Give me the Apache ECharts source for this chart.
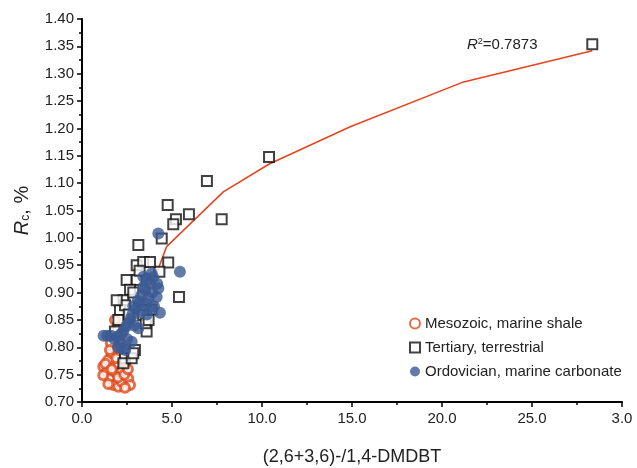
<!DOCTYPE html>
<html>
<head>
<meta charset="utf-8">
<script src="https://cdn.jsdelivr.net/npm/echarts@6/dist/echarts.min.js"></script>
<style>html,body{margin:0;padding:0;background:#fff;}#c{width:637px;height:468px;}</style>
</head>
<body>
<div id="c"></div>
<script>
// ---- data ----
var seriesNames = ['Mesozoic, marine shale', 'Tertiary, terrestrial', 'Ordovician, marine carbonate'];

var mesozoic = [
  [1.18,0.765],[1.46,0.777],[1.65,0.789],[1.83,0.798],[1.37,0.755],[1.56,0.743],
  [1.74,0.731],[2.02,0.728],[2.20,0.737],[2.57,0.743],[2.67,0.731],[1.83,0.755],
  [2.02,0.768],[1.46,0.733],[2.39,0.726],[1.18,0.749],[2.20,0.758],[2.40,0.770],
  [1.90,0.780],[1.83,0.850],[1.95,0.835],[2.10,0.812],[2.50,0.795],[1.60,0.808],
  [1.30,0.770],[1.65,0.760],[2.00,0.745],[2.35,0.750],[1.55,0.795],[2.55,0.760]
];

var tertiary = [
  [28.35,1.354],[10.39,1.148],[6.94,1.104],[4.76,1.060],[5.94,1.043],[5.22,1.034],
  [5.07,1.025],[7.76,1.034],[4.43,0.999],[3.13,0.987],[4.79,0.955],[4.30,0.938],
  [3.04,0.950],[3.40,0.956],[3.78,0.956],[2.48,0.923],[3.04,0.923],[2.67,0.905],
  [5.39,0.892],[3.87,0.869],[2.30,0.886],[2.11,0.868],[2.02,0.850],[3.40,0.868],
  [3.40,0.859],[1.83,0.829],[3.59,0.829],[2.39,0.877],[1.93,0.886],[2.94,0.795],
  [2.39,0.780],[2.30,0.771],[2.76,0.780],[2.85,0.789],[3.54,0.844],[2.60,0.860],
  [3.20,0.940],[2.85,0.900],[3.70,0.850]
];

var ordovician = [
  [4.24,1.008],[5.44,0.938],[3.41,0.929],[3.87,0.935],[4.18,0.916],[4.33,0.863],
  [4.15,0.892],[4.24,0.908],[3.59,0.880],[3.78,0.917],[3.13,0.835],[2.76,0.810],
  [2.20,0.798],[1.20,0.821],[1.60,0.821],[2.00,0.820],[2.30,0.830],[2.60,0.845],
  [2.80,0.860],[3.00,0.870],[3.20,0.880],[3.30,0.895],[3.50,0.905],[2.50,0.815],
  [2.90,0.840],[3.60,0.860],[4.00,0.875],[3.90,0.900],[2.10,0.808],[2.40,0.795],
  [1.80,0.815],[3.70,0.890],[2.00,0.800],[1.40,0.821],[2.45,0.838],[2.70,0.852],
  [3.10,0.885],[3.40,0.910],[3.60,0.925],[3.95,0.928],[2.20,0.825],[2.85,0.875],
  [3.25,0.865],[3.80,0.870]
];

var trendLine = [
  [2.0,0.79],[3.0,0.87],[4.06,0.928],[4.7,0.984],[7.85,1.084],[10.4,1.135],
  [14.9,1.203],[21.2,1.285],[28.35,1.342]
];

var xTickLabels = ['0.0','5.0','10.0','15.0','20.0','25.0','3.0'];
var yTickLabels = ['0.70','0.75','0.80','0.85','0.90','0.95','1.00','1.05','1.10','1.15','1.20','1.25','1.30','1.35','1.40'];
var r2Text = '=0.7873';

// ---- chart ----
var chart = echarts.init(document.getElementById('c'));
var font = 'Liberation Sans, Arial, sans-serif';
var axisCommon = {
  axisLine: {show: true, lineStyle: {color: '#000', width: 2}},
  axisTick: {show: true, length: 5, lineStyle: {color: '#000', width: 1.5}},
  minorTick: {show: true, splitNumber: 2, length: 3, lineStyle: {color: '#000', width: 1.5}},
  splitLine: {show: false},
  minorSplitLine: {show: false}
};

chart.setOption({
  animation: false,
  backgroundColor: '#fff',
  grid: {left: 82, right: 15, top: 19, bottom: 66, containLabel: false, outerBoundsMode: 'none'},
  xAxis: Object.assign({
    type: 'value', min: 0, max: 30, interval: 5,
    name: '(2,6+3,6)-/1,4-DMDBT', nameLocation: 'middle', nameGap: 46,
    nameTextStyle: {fontFamily: font, fontSize: 18, color: '#222'},
    axisLabel: {
      fontFamily: font, fontSize: 15, color: '#222', margin: 9,
      formatter: function (v) { return xTickLabels[Math.round(v / 5)]; }
    }
  }, axisCommon),
  yAxis: Object.assign({
    type: 'value', min: 0.70, max: 1.40, interval: 0.05,
    name: '{i|R}{s|c}{n|, %}', nameLocation: 'middle', nameGap: 50,
    nameTextStyle: {
      fontFamily: font, fontSize: 20, color: '#222',
      rich: {
        i: {fontFamily: font, fontSize: 20, fontStyle: 'italic', color: '#222', verticalAlign: 'bottom', lineHeight: 22},
        s: {fontFamily: font, fontSize: 12, color: '#222', verticalAlign: 'bottom', lineHeight: 14},
        n: {fontFamily: font, fontSize: 20, color: '#222', verticalAlign: 'bottom', lineHeight: 22}
      }
    },
    axisLabel: {
      fontFamily: font, fontSize: 15, color: '#222', margin: 8,
      formatter: function (v) { return yTickLabels[Math.round((v - 0.70) / 0.05)]; }
    }
  }, axisCommon),
  legend: {
    orient: 'vertical', left: 404, top: 311, itemGap: 9,
    itemWidth: 10, itemHeight: 10,
    textStyle: {fontFamily: font, fontSize: 15, color: '#222'},
    data: seriesNames
  },
  graphic: [{
    type: 'text', left: 467, top: 37,
    style: {
      text: '{i|R}{s|2}{n|' + r2Text + '}',
      fontFamily: font, fontSize: 15, fill: '#222',
      rich: {
        i: {fontFamily: font, fontSize: 15, fontStyle: 'italic', fill: '#222'},
        s: {fontFamily: font, fontSize: 9, fill: '#222', verticalAlign: 'top', padding: [0, 0, 6, 0]},
        n: {fontFamily: font, fontSize: 15, fill: '#222'}
      }
    }
  }],
  series: [
    {
      type: 'line', data: trendLine, symbol: 'none', z: 1, silent: true,
      lineStyle: {color: '#e8431c', width: 1.5}
    },
    {
      name: seriesNames[0], type: 'scatter', data: mesozoic, z: 2,
      symbol: 'circle', symbolSize: 9,
      itemStyle: {color: '#fff', borderColor: '#de4a1c', borderWidth: 3}
    },
    {
      name: seriesNames[1], type: 'scatter', data: tertiary, z: 3,
      symbol: 'rect', symbolSize: 10,
      itemStyle: {color: '#fff', borderColor: '#111', borderWidth: 2}
    },
    {
      name: seriesNames[2], type: 'scatter', data: ordovician, z: 4,
      symbol: 'circle', symbolSize: 12,
      itemStyle: {color: '#3b5a93'}
    }
  ]
});
</script>
</body>
</html>
